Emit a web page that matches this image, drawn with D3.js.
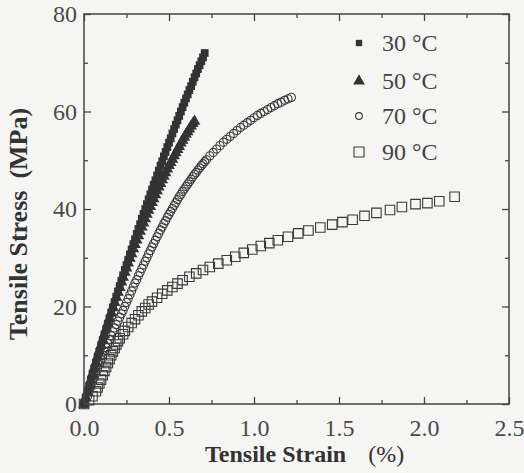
<!DOCTYPE html>
<html>
<head>
<meta charset="utf-8">
<script src="https://cdn.jsdelivr.net/npm/d3@7"></script>
<style>
  html, body { margin: 0; padding: 0; background: #f5f5f3; }
  svg { display: block; }
  svg text { font-family: "Liberation Serif", "Times New Roman", serif !important; }
</style>
</head>
<body>
<svg id="chart" width="524" height="473"></svg>
<script>
// Tensile stress–strain data at four test temperatures
const strain30 = [0.00,0.01,0.02,0.03,0.04,0.05,0.06,0.07,0.08,0.09,0.10,0.11,0.12,0.13,0.14,0.15,0.16,0.17,0.18,0.19,0.20,0.21,0.22,0.23,0.24,0.25,0.26,0.27,0.28,0.29,0.30,0.31,0.32,0.33,0.34,0.35,0.36,0.37,0.38,0.39,0.40,0.41,0.42,0.43,0.44,0.45,0.46,0.47,0.48,0.49,0.50,0.51,0.52,0.53,0.54,0.55,0.56,0.57,0.58,0.59,0.60,0.61,0.62,0.63,0.64,0.65,0.66,0.67,0.68,0.69,0.70,0.71];
const stress30 = [0.0,1.2,2.4,3.6,4.8,6.0,7.2,8.3,9.5,10.7,11.8,13.0,14.1,15.3,16.4,17.5,18.7,19.8,20.9,22.0,23.1,24.2,25.3,26.4,27.5,28.5,29.6,30.7,31.7,32.8,33.8,34.9,35.9,36.9,38.0,39.0,40.0,41.0,42.0,43.0,44.0,45.0,45.9,46.9,47.9,48.9,49.8,50.8,51.7,52.7,53.6,54.5,55.5,56.4,57.3,58.2,59.1,60.0,60.9,61.8,62.7,63.5,64.4,65.2,66.1,67.0,67.8,68.7,69.5,70.3,71.1,72.0];

const strain50 = [0.00,0.01,0.02,0.03,0.04,0.05,0.06,0.07,0.08,0.09,0.10,0.11,0.12,0.13,0.14,0.15,0.16,0.17,0.18,0.19,0.20,0.21,0.22,0.23,0.24,0.25,0.26,0.27,0.28,0.29,0.30,0.31,0.32,0.33,0.34,0.35,0.36,0.37,0.38,0.39,0.40,0.41,0.42,0.43,0.44,0.45,0.46,0.47,0.48,0.49,0.50,0.51,0.52,0.53,0.54,0.55,0.56,0.57,0.58,0.59,0.60,0.61,0.62,0.63,0.64,0.65];
const stress50 = [0.0,1.3,2.5,3.7,4.9,6.2,7.4,8.5,9.7,10.9,12.0,13.2,14.3,15.4,16.5,17.6,18.7,19.8,20.8,21.9,22.9,23.9,25.0,26.0,27.0,27.9,28.9,29.9,30.8,31.8,32.7,33.6,34.5,35.4,36.3,37.1,38.0,38.9,39.7,40.5,41.3,42.1,42.9,43.7,44.5,45.2,46.0,46.7,47.4,48.2,48.9,49.5,50.2,50.9,51.5,52.2,52.8,53.5,54.1,54.7,55.3,55.8,56.4,57.0,57.5,58.0];

const strain70 = [0.00,0.02,0.03,0.04,0.05,0.06,0.07,0.08,0.09,0.10,0.11,0.12,0.13,0.14,0.15,0.16,0.17,0.18,0.19,0.20,0.21,0.22,0.23,0.24,0.25,0.26,0.27,0.28,0.29,0.30,0.31,0.32,0.33,0.34,0.35,0.36,0.37,0.38,0.39,0.40,0.41,0.42,0.43,0.44,0.45,0.46,0.47,0.48,0.49,0.50,0.51,0.52,0.53,0.54,0.55,0.56,0.57,0.58,0.59,0.60,0.61,0.62,0.63,0.64,0.65,0.66,0.67,0.68,0.69,0.70,0.71,0.72,0.74,0.76,0.78,0.80,0.82,0.84,0.86,0.88,0.90,0.92,0.94,0.96,0.98,1.00,1.02,1.04,1.06,1.08,1.10,1.12,1.14,1.16,1.18,1.20,1.22];
const stress70 = [0.0,1.5,2.5,3.5,4.5,5.4,6.3,7.2,8.1,9.0,10.0,10.8,11.6,12.4,13.2,14.0,14.8,15.6,16.3,17.0,17.8,18.5,19.2,20.0,20.8,21.6,22.4,23.2,24.0,24.8,25.5,26.3,27.0,27.8,28.5,29.3,30.0,30.8,31.5,32.2,32.9,33.6,34.3,35.0,35.7,36.3,37.0,37.6,38.3,38.9,39.5,40.1,40.7,41.3,41.9,42.5,43.0,43.6,44.1,44.6,45.1,45.6,46.1,46.6,47.1,47.5,48.0,48.4,48.9,49.3,49.7,50.1,50.9,51.6,52.3,53.0,53.7,54.3,54.9,55.5,56.1,56.7,57.2,57.7,58.2,58.7,59.2,59.6,60.0,60.4,60.8,61.2,61.6,61.9,62.3,62.6,62.9];

const strain90 = [0.00,0.03,0.05,0.07,0.08,0.09,0.10,0.11,0.12,0.13,0.14,0.15,0.16,0.17,0.18,0.19,0.20,0.21,0.23,0.24,0.26,0.28,0.30,0.32,0.34,0.36,0.38,0.40,0.43,0.46,0.49,0.52,0.55,0.58,0.62,0.66,0.70,0.74,0.79,0.84,0.89,0.94,0.99,1.04,1.09,1.14,1.20,1.26,1.32,1.39,1.46,1.52,1.58,1.65,1.72,1.80,1.87,1.95,2.02,2.09,2.18];
const stress90 = [0.0,0.8,1.6,2.6,3.4,4.2,5.0,5.9,6.8,7.6,8.4,9.2,10.0,10.8,11.5,12.2,12.9,13.5,14.3,15.0,15.8,16.6,17.4,18.2,19.0,19.7,20.4,21.0,21.8,22.6,23.3,24.0,24.7,25.4,26.1,26.8,27.5,28.1,28.8,29.5,30.2,31.0,31.7,32.4,33.0,33.6,34.3,35.0,35.6,36.2,36.8,37.3,37.8,38.6,39.2,39.8,40.4,41.0,41.2,41.6,42.5];

const seriesNames = ["30 °C", "50 °C", "70 °C", "90 °C"];
const xTicks = [0, 0.5, 1.0, 1.5, 2.0, 2.5];
const xMinorTicks = [0.25, 0.75, 1.25, 1.75, 2.25];
const yTicks = [0, 20, 40, 60, 80];
const yMinorTicks = [10, 30, 50, 70];

const svg = d3.select("#chart");
const x = d3.scaleLinear().domain([0, 2.5]).range([84, 509]);
const y = d3.scaleLinear().domain([0, 80]).range([404, 14]);

const ink = "#333";
const axisInk = "#444";
const serif = "'Liberation Serif', 'Times New Roman', serif";

// marker styles per series
const styles = [
  { type: d3.symbolSquare,   size: 60,  fill: ink,    stroke: "none" },
  { type: d3.symbolTriangle, size: 60,  fill: ink,    stroke: "none" },
  { type: d3.symbolCircle,   size: 52,  fill: "none", stroke: "#3a3a3a" },
  { type: d3.symbolSquare,   size: 90,  fill: "none", stroke: "#3a3a3a" }
];

const series = [
  d3.zip(strain30, stress30),
  d3.zip(strain50, stress50),
  d3.zip(strain70, stress70),
  d3.zip(strain90, stress90)
];

// data markers
const plot = svg.append("g");
series.forEach((pts, i) => {
  const st = styles[i];
  plot.append("g").selectAll("path").data(pts).join("path")
    .attr("transform", d => `translate(${x(d[0])},${y(d[1])})`)
    .attr("d", d3.symbol().type(st.type).size(st.size))
    .attr("fill", st.fill)
    .attr("stroke", st.stroke)
    .attr("stroke-width", 1.1);
});

// axes with inward ticks on all four sides
function styleAxis(g) {
  g.attr("font-family", null).attr("font-size", null);
  g.select(".domain").remove();
  g.selectAll("line").attr("stroke", axisInk).attr("stroke-width", 1.3);
  g.selectAll("text")
    .style("font-family", serif).style("font-size", "24px")
    .attr("fill", "#4a4a4a");
}
svg.append("g").attr("transform", "translate(0,404)")
  .call(d3.axisBottom(x).tickValues(xTicks).tickSize(-7).tickPadding(15).tickFormat(d3.format(".1f")))
  .call(styleAxis);
svg.append("g").attr("transform", "translate(0,404)")
  .call(d3.axisBottom(x).tickValues(xMinorTicks).tickSize(-4).tickFormat(""))
  .call(styleAxis);
svg.append("g").attr("transform", "translate(0,14)")
  .call(d3.axisTop(x).tickValues(xTicks).tickSize(-7).tickFormat(""))
  .call(styleAxis);
svg.append("g").attr("transform", "translate(0,14)")
  .call(d3.axisTop(x).tickValues(xMinorTicks).tickSize(-4).tickFormat(""))
  .call(styleAxis);
svg.append("g").attr("transform", "translate(84,0)")
  .call(d3.axisLeft(y).tickValues(yTicks).tickSize(-7).tickPadding(7).tickFormat(d3.format("d")))
  .call(styleAxis);
svg.append("g").attr("transform", "translate(84,0)")
  .call(d3.axisLeft(y).tickValues(yMinorTicks).tickSize(-4).tickFormat(""))
  .call(styleAxis);
svg.append("g").attr("transform", "translate(509,0)")
  .call(d3.axisRight(y).tickValues(yTicks).tickSize(-7).tickFormat(""))
  .call(styleAxis);
svg.append("g").attr("transform", "translate(509,0)")
  .call(d3.axisRight(y).tickValues(yMinorTicks).tickSize(-4).tickFormat(""))
  .call(styleAxis);

// frame
svg.append("rect")
  .attr("x", x(0)).attr("y", y(80))
  .attr("width", x(2.5) - x(0)).attr("height", y(0) - y(80))
  .attr("fill", "none").attr("stroke", axisInk).attr("stroke-width", 1.5);

// axis titles
const xt = svg.append("text").attr("x", 205).attr("y", 462)
  .style("font-size", "24px").attr("fill", "#333");
xt.append("tspan").attr("font-weight", "bold").text("Tensile Strain");
xt.append("tspan").attr("dx", 22).text("(%)");

const yt = svg.append("text")
  .attr("transform", "translate(27,224) rotate(-90)")
  .attr("text-anchor", "middle")
  .style("font-size", "26px").attr("font-weight", "bold").attr("fill", "#333");
yt.append("tspan").text("Tensile Stress");
yt.append("tspan").attr("dx", 12).text("(MPa)");

// legend
const legendY = [43, 81, 116, 152];
const legendSizes = [40, 60, 36, 100];
const legend = svg.append("g");
seriesNames.forEach((name, i) => {
  const st = styles[i];
  legend.append("path")
    .attr("transform", `translate(359,${legendY[i]})`)
    .attr("d", d3.symbol().type(st.type).size(legendSizes[i]))
    .attr("fill", st.fill).attr("stroke", st.stroke).attr("stroke-width", 1.1);
  legend.append("text")
    .attr("x", 382).attr("y", legendY[i] + 8)
    .style("font-size", "24px").attr("fill", "#444")
    .text(name);
});
</script>
</body>
</html>
